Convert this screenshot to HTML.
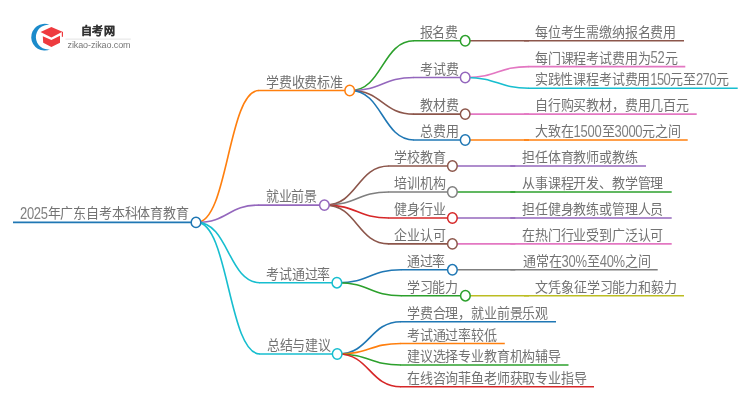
<!DOCTYPE html>
<html lang="zh-CN"><head><meta charset="utf-8"><title>mindmap</title>
<style>
html,body{margin:0;padding:0;background:#fff;width:750px;height:410px;overflow:hidden}
svg{display:block}
.wrap{will-change:transform;width:750px;height:410px}
.t text{font-family:"Liberation Sans",sans-serif;font-size:13px;fill:#727272;letter-spacing:-0.15px}
.t text.c{letter-spacing:0.15px}
.t text.d{fill:#808080;font-size:16px;letter-spacing:-0.185px}
</style></head><body>
<div class="wrap"><svg width="750" height="410" viewBox="0 0 750 410">
<g fill="none" stroke-width="1.6">
<path d="M197.0,222.4C228.0,222.4 228.0,90.5 259.0,90.5" stroke="#ff7f0e"/>
<path d="M350.7,90.5C382.4,90.5 382.4,40.8 414.0,40.8" stroke="#2ca02c"/>
<path d="M466.2,40.8H529.0" stroke="#8c564b"/>
<path d="M350.7,90.5C382.4,90.5 382.4,77.5 414.0,77.5" stroke="#9467bd"/>
<path d="M466.2,77.5C497.6,77.5 497.6,66.6 529.0,66.6" stroke="#e377c2"/>
<path d="M466.2,77.5C497.6,77.5 497.6,88.2 529.0,88.2" stroke="#17becf"/>
<path d="M350.7,90.5C382.4,90.5 382.4,114.1 414.0,114.1" stroke="#8c564b"/>
<path d="M466.2,114.1H529.0" stroke="#e377c2"/>
<path d="M350.7,90.5C382.4,90.5 382.4,140.0 414.0,140.0" stroke="#1f77b4"/>
<path d="M466.2,140.0H529.0" stroke="#ff7f0e"/>
<path d="M197.0,222.4C228.0,222.4 228.0,205.1 259.0,205.1" stroke="#9467bd"/>
<path d="M325.4,205.1C357.2,205.1 357.2,166.0 389.0,166.0" stroke="#8c564b"/>
<path d="M453.4,166.0H515.3" stroke="#9467bd"/>
<path d="M325.4,205.1C357.2,205.1 357.2,192.0 389.0,192.0" stroke="#7f7f7f"/>
<path d="M453.4,192.0H515.3" stroke="#2ca02c"/>
<path d="M325.4,205.1C357.2,205.1 357.2,218.0 389.0,218.0" stroke="#d62728"/>
<path d="M453.4,218.0H515.3" stroke="#9467bd"/>
<path d="M325.4,205.1C357.2,205.1 357.2,243.9 389.0,243.9" stroke="#8c564b"/>
<path d="M453.4,243.9H515.3" stroke="#e377c2"/>
<path d="M197.0,222.4C228.5,222.4 228.5,282.7 260.0,282.7" stroke="#17becf"/>
<path d="M337.9,282.7C369.6,282.7 369.6,269.8 401.4,269.8" stroke="#1f77b4"/>
<path d="M453.4,269.8H515.3" stroke="#7f7f7f"/>
<path d="M337.9,282.7C369.6,282.7 369.6,295.7 401.4,295.7" stroke="#2ca02c"/>
<path d="M466.4,295.7H529.0" stroke="#bcbd22"/>
<path d="M197.0,222.4C228.5,222.4 228.5,354.0 260.0,354.0" stroke="#17becf"/>
<path d="M338.2,354.0C369.6,354.0 369.6,321.7 401.0,321.7" stroke="#1f77b4"/>
<path d="M338.2,354.0C369.6,354.0 369.6,343.5 401.0,343.5" stroke="#ff7f0e"/>
<path d="M338.2,354.0C369.6,354.0 369.6,365.0 401.0,365.0" stroke="#2ca02c"/>
<path d="M338.2,354.0C369.6,354.0 369.6,386.8 401.0,386.8" stroke="#d62728"/>
</g>
<g fill="none" stroke-width="1.6">
<path d="M13.0,222.4H191.5" stroke="#1f77b4" stroke-width="1.8"/>
<path d="M258.5,90.5H345.2" stroke="#ff7f0e"/>
<path d="M413.5,40.8H460.7" stroke="#2ca02c"/>
<path d="M524.0,40.8H684.0" stroke="#8c564b"/>
<path d="M413.5,77.5H460.7" stroke="#9467bd"/>
<path d="M528.5,66.6H685.3" stroke="#e377c2"/>
<path d="M528.5,88.2H737.7" stroke="#17becf"/>
<path d="M413.5,114.1H460.7" stroke="#8c564b"/>
<path d="M524.0,114.1H696.7" stroke="#e377c2"/>
<path d="M413.5,140.0H460.7" stroke="#1f77b4"/>
<path d="M524.0,140.0H687.7" stroke="#ff7f0e"/>
<path d="M258.5,205.1H319.9" stroke="#9467bd"/>
<path d="M388.5,166.0H447.9" stroke="#8c564b"/>
<path d="M510.3,166.0H646.0" stroke="#9467bd"/>
<path d="M388.5,192.0H447.9" stroke="#7f7f7f"/>
<path d="M510.3,192.0H671.7" stroke="#2ca02c"/>
<path d="M388.5,218.0H447.9" stroke="#d62728"/>
<path d="M510.3,218.0H671.7" stroke="#9467bd"/>
<path d="M388.5,243.9H447.9" stroke="#8c564b"/>
<path d="M510.3,243.9H671.7" stroke="#e377c2"/>
<path d="M259.5,282.7H332.4" stroke="#17becf"/>
<path d="M400.9,269.8H447.9" stroke="#1f77b4"/>
<path d="M510.3,269.8H657.7" stroke="#7f7f7f"/>
<path d="M400.9,295.7H460.9" stroke="#2ca02c"/>
<path d="M524.0,295.7H684.0" stroke="#bcbd22"/>
<path d="M259.5,354.0H332.7" stroke="#17becf"/>
<path d="M400.5,321.7H556.0" stroke="#1f77b4"/>
<path d="M400.5,343.5H504.8" stroke="#ff7f0e"/>
<path d="M400.5,365.0H568.5" stroke="#2ca02c"/>
<path d="M400.5,386.8H594.0" stroke="#d62728"/>
</g>
<g fill="#fff" stroke-width="1.5">
<ellipse cx="196.0" cy="222.4" rx="4.8" ry="5.2" stroke="#1f77b4"/>
<ellipse cx="349.7" cy="90.5" rx="4.8" ry="5.2" stroke="#ff7f0e"/>
<ellipse cx="465.2" cy="40.8" rx="4.8" ry="5.2" stroke="#2ca02c"/>
<ellipse cx="465.2" cy="77.5" rx="4.8" ry="5.2" stroke="#9467bd"/>
<ellipse cx="465.2" cy="114.1" rx="4.8" ry="5.2" stroke="#8c564b"/>
<ellipse cx="465.2" cy="140.0" rx="4.8" ry="5.2" stroke="#1f77b4"/>
<ellipse cx="324.4" cy="205.1" rx="4.8" ry="5.2" stroke="#9467bd"/>
<ellipse cx="452.4" cy="166.0" rx="4.8" ry="5.2" stroke="#8c564b"/>
<ellipse cx="452.4" cy="192.0" rx="4.8" ry="5.2" stroke="#7f7f7f"/>
<ellipse cx="452.4" cy="218.0" rx="4.8" ry="5.2" stroke="#d62728"/>
<ellipse cx="452.4" cy="243.9" rx="4.8" ry="5.2" stroke="#8c564b"/>
<ellipse cx="336.9" cy="282.7" rx="4.8" ry="5.2" stroke="#17becf"/>
<ellipse cx="452.4" cy="269.8" rx="4.8" ry="5.2" stroke="#1f77b4"/>
<ellipse cx="465.4" cy="295.7" rx="4.8" ry="5.2" stroke="#2ca02c"/>
<ellipse cx="337.2" cy="354.0" rx="4.8" ry="5.2" stroke="#17becf"/>
</g>
<g class="t">
<text class="d" style="letter-spacing:-0.431px" transform="translate(20.10,218.95) scale(0.8125,1)">2025</text>
<text class="c" transform="translate(47.61,218.45) scale(1,1.05)">年广东自考本科体育教育</text>
<text class="c" transform="translate(266.00,86.75) scale(1,1.05)">学费收费标准</text>
<text class="c" transform="translate(419.60,37.05) scale(1,1.05)">报名费</text>
<text class="c" transform="translate(534.90,37.05) scale(1,1.05)">每位考生需缴纳报名费用</text>
<text class="c" transform="translate(420.10,73.75) scale(1,1.05)">考试费</text>
<text class="c" transform="translate(534.90,62.85) scale(1,1.05)">每门课程考试费用为</text>
<text class="d" style="letter-spacing:-0.308px" transform="translate(650.55,63.35) scale(0.8125,1)">52</text>
<text class="c" transform="translate(664.51,62.85) scale(1,1.05)">元</text>
<text class="c" transform="translate(534.70,84.45) scale(1,1.05)">实践性课程考试费用</text>
<text class="d" style="letter-spacing:-0.738px" transform="translate(650.35,84.95) scale(0.8125,1)">150</text>
<text class="c" transform="translate(670.23,84.45) scale(1,1.05)">元至</text>
<text class="d" style="letter-spacing:-0.738px" transform="translate(695.93,84.95) scale(0.8125,1)">270</text>
<text class="c" transform="translate(715.82,84.45) scale(1,1.05)">元</text>
<text class="c" transform="translate(420.10,110.35) scale(1,1.05)">教材费</text>
<text class="c" transform="translate(535.00,110.35) scale(1,1.05)">自行购买教材，费用几百元</text>
<text class="c" transform="translate(420.10,136.25) scale(1,1.05)">总费用</text>
<text class="c" transform="translate(535.00,136.25) scale(1,1.05)">大致在</text>
<text class="d" style="letter-spacing:-0.283px" transform="translate(573.55,136.75) scale(0.8125,1)">1500</text>
<text class="c" transform="translate(601.54,136.25) scale(1,1.05)">至</text>
<text class="d" style="letter-spacing:-0.283px" transform="translate(614.39,136.75) scale(0.8125,1)">3000</text>
<text class="c" transform="translate(642.38,136.25) scale(1,1.05)">元之间</text>
<text class="c" transform="translate(265.70,201.35) scale(1,1.05)">就业前景</text>
<text class="c" transform="translate(394.10,162.25) scale(1,1.05)">学校教育</text>
<text class="c" transform="translate(522.10,162.25) scale(1,1.05)">担任体育教师或教练</text>
<text class="c" transform="translate(394.10,188.25) scale(1,1.05)">培训机构</text>
<text class="c" transform="translate(522.10,188.25) scale(1,1.05)">从事课程开发、教学管理</text>
<text class="c" transform="translate(394.10,214.25) scale(1,1.05)">健身行业</text>
<text class="c" transform="translate(522.10,214.25) scale(1,1.05)">担任健身教练或管理人员</text>
<text class="c" transform="translate(394.10,240.15) scale(1,1.05)">企业认可</text>
<text class="c" transform="translate(522.10,240.15) scale(1,1.05)">在热门行业受到广泛认可</text>
<text class="c" transform="translate(266.10,278.95) scale(1,1.05)">考试通过率</text>
<text class="c" transform="translate(406.80,266.05) scale(1,1.05)">通过率</text>
<text class="c" transform="translate(523.00,266.05) scale(1,1.05)">通常在</text>
<text class="d" style="letter-spacing:-0.308px" transform="translate(561.55,266.55) scale(0.8125,1)">30%</text>
<text class="c" transform="translate(586.81,266.05) scale(1,1.05)">至</text>
<text class="d" style="letter-spacing:-0.308px" transform="translate(599.66,266.55) scale(0.8125,1)">40%</text>
<text class="c" transform="translate(624.93,266.05) scale(1,1.05)">之间</text>
<text class="c" transform="translate(406.80,291.95) scale(1,1.05)">学习能力</text>
<text class="c" transform="translate(535.40,291.95) scale(1,1.05)">文凭象征学习能力和毅力</text>
<text class="c" transform="translate(266.70,350.25) scale(1,1.05)">总结与建议</text>
<text class="c" transform="translate(406.90,317.95) scale(1,1.05)">学费合理，就业前景乐观</text>
<text class="c" transform="translate(406.90,339.75) scale(1,1.05)">考试通过率较低</text>
<text class="c" transform="translate(406.90,361.25) scale(1,1.05)">建议选择专业教育机构辅导</text>
<text class="c" transform="translate(406.90,383.05) scale(1,1.05)">在线咨询菲鱼老师获取专业指导</text>
</g>
<g id="logo">
<path d="M49.5,24.8A13.36,13.36 0 1 0 50.5,49.2A12.34,12.34 0 1 1 49.5,24.8Z" fill="#1b8bcb"/>
<path d="M40.5,32.1L51.4,26.9L62.4,31.7L51.4,37.6Z" fill="#ee3b3f"/>
<path d="M42.8,36.2L51.4,40L60,35.8L60,42.7L51.4,47L43.2,42.7Z" fill="#ee3b3f"/>
<rect x="61.8" y="31.8" width="1.2" height="5" fill="#ee3b3f"/>
<text x="80.6" y="35.2" style="font-family:'Liberation Sans',sans-serif;font-weight:700" font-size="11" fill="#333" stroke="#333" stroke-width="0.25" letter-spacing="0.9">自考网</text>
<path d="M65.4,39.1H130.8" stroke="#dcdcdc" stroke-width="0.8"/>
<text x="67.5" y="48" style="font-family:'Liberation Sans',sans-serif" font-size="9" fill="#777" letter-spacing="-0.1">zikao-zikao.com</text>
</g>
</svg></div>
</body></html>
